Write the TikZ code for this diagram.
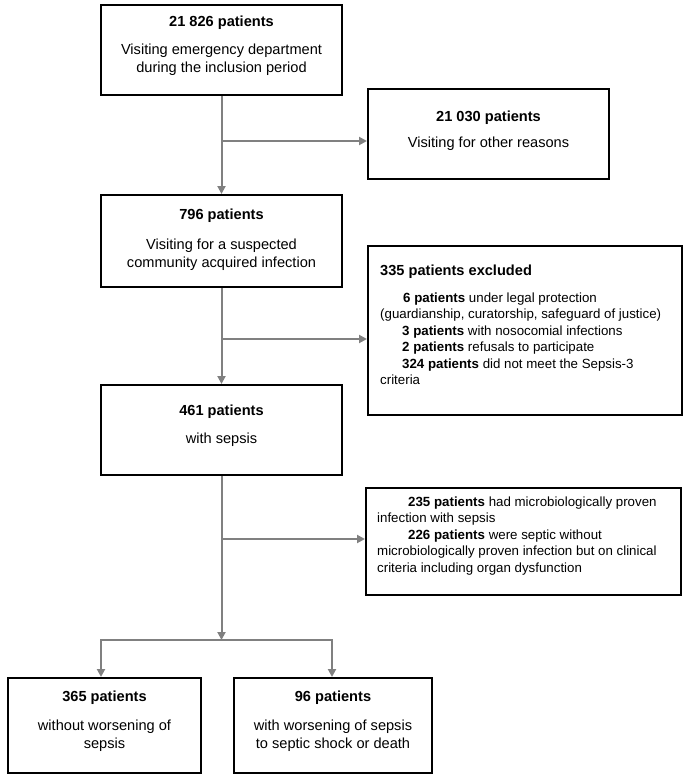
\documentclass[tikz,border=0pt]{standalone}
\usepackage{fontspec}
\setmainfont{Liberation Sans}
\usetikzlibrary{arrows.meta}
\definecolor{arrowgray}{HTML}{808080}
\newcommand\fstrut{\rule{0pt}{11pt}}
\tikzset{
  box/.style={draw=black, line width=2pt, inner sep=0pt, fill=white},
  ttl/.style={inner sep=0pt, anchor=north, font=\fontsize{14.6}{18}\selectfont\bfseries},
  txt/.style={inner sep=0pt, anchor=north, align=center, font=\fontsize{14.6}{18}\selectfont},
  ltxt/.style={inner sep=0pt, anchor=north west, align=left, font=\fontsize{13.3}{16.5}\selectfont},
  ln/.style={draw=arrowgray, line width=2pt},
  arr/.style={ln, -{Triangle[length=8pt,width=8pt]}},
  arr2/.style={ln, {Triangle[length=8pt,width=8pt]}-{Triangle[length=8pt,width=8pt]}},
}
\begin{document}
\begin{tikzpicture}[x=1pt,y=-1pt]
\useasboundingbox (0,0) rectangle (685,777);
% boxes
\node[box, minimum width=241pt, minimum height=90pt]  (b1) at (221.5,50) {};
\node[box, minimum width=241pt, minimum height=90pt]  (b2) at (488.5,134) {};
\node[box, minimum width=241pt, minimum height=92pt]  (b3) at (221.5,241) {};
\node[box, minimum width=314pt, minimum height=169pt] (b4) at (525,330.5) {};
\node[box, minimum width=241pt, minimum height=90pt]  (b5) at (221.5,430) {};
\node[box, minimum width=315pt, minimum height=107pt] (b6) at (523.5,541.5) {};
\node[box, minimum width=193pt, minimum height=95pt]  (b7) at (104.5,725.5) {};
\node[box, minimum width=198pt, minimum height=95pt]  (b8) at (333,725.5) {};
% texts
\node[ttl] (t1) at (221.5,15) {\fstrut 21 826 patients};
\node[txt] (d1) at (221.5,43) {\fstrut Visiting emergency department\\during the inclusion period};
\node[ttl] (t2) at (488.5,110) {\fstrut 21 030 patients};
\node[txt] (d2) at (488.5,136) {\fstrut Visiting for other reasons};
\node[ttl] (t3) at (221.5,208) {\fstrut 796 patients};
\node[txt] (d3) at (221.5,238) {\fstrut Visiting for a suspected\\community acquired infection};
\node[ttl, anchor=north west] (t4) at (380,264) {\fstrut 335 patients excluded};
\node[ltxt] (d4) at (380,291) {\fstrut\hspace*{23pt}\textbf{6 patients} under legal protection\\
(guardianship, curatorship, safeguard of justice)\\
\hspace*{22pt}\textbf{3 patients} with nosocomial infections\\
\hspace*{22pt}\textbf{2 patients} refusals to participate\\
\hspace*{22pt}\textbf{324 patients} did not meet the Sepsis-3\\
criteria};
\node[ttl] (t5) at (221.5,404) {\fstrut 461 patients};
\node[txt] (d5) at (221.5,432) {\fstrut with sepsis};
\node[ltxt] (d6) at (377,495) {\fstrut\hspace*{31pt}\textbf{235 patients} had microbiologically proven\\
infection with sepsis\\
\hspace*{31pt}\textbf{226 patients} were septic without\\
microbiologically proven infection but on clinical\\
criteria including organ dysfunction};
\node[ttl] (t7) at (104.5,690) {\fstrut 365 patients};
\node[txt] (d7) at (104.5,719) {\fstrut without worsening of\\sepsis};
\node[ttl] (t8) at (333,690) {\fstrut 96 patients};
\node[txt] (d8) at (333,719) {\fstrut with worsening of sepsis\\to septic shock or death};
% connectors
\coordinate (j1) at (221.5,141);
\coordinate (j2) at (221.5,339);
\coordinate (j3) at (221.5,539);
\coordinate (j4) at (221.5,640);
\coordinate (l) at (101,640);
\coordinate (r) at (332,640);
\draw[arr] (b1.south) -- (b3.north);
\draw[arr] (j1) -- (j1 -| b2.west);
\draw[arr] (b3.south) -- (b5.north);
\draw[arr] (j2) -- (j2 -| b4.west);
\draw[arr] (b5.south) -- (j4);
\draw[arr] (j3) -- (j3 -| b6.west);
\draw[arr2] (l |- b7.north) -- (l) -- (r) -- (r |- b8.north);
\end{tikzpicture}
\end{document}
